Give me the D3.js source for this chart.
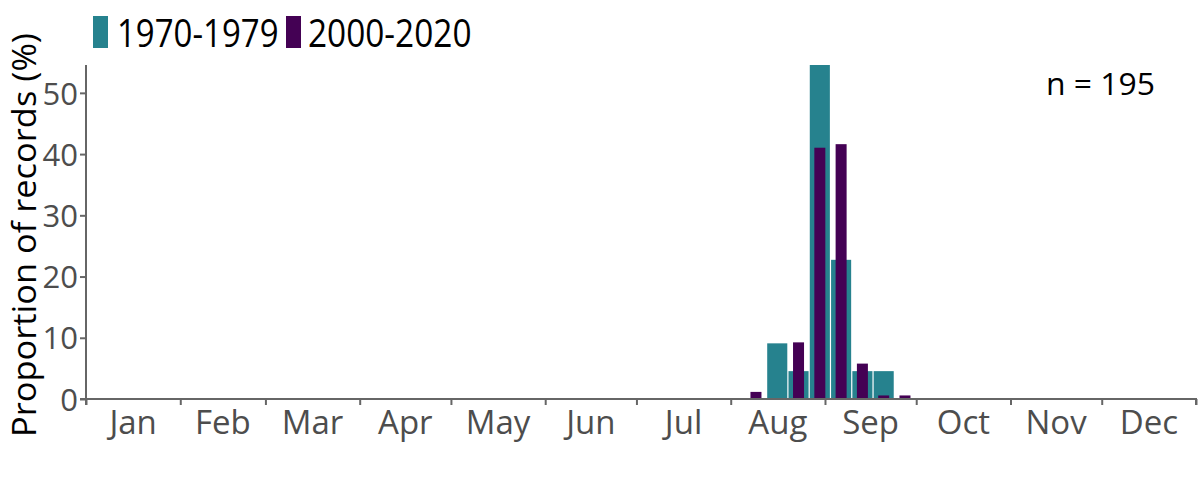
<!DOCTYPE html>
<html><head><meta charset="utf-8">
<script src="https://cdn.jsdelivr.net/npm/d3@7"></script>
<style>body{margin:0;background:#fff;} svg{display:block;}</style>
</head><body>
<svg id="c" width="1200" height="480"></svg>
<script>
const months = ["Jan","Feb","Mar","Apr","May","Jun","Jul","Aug","Sep","Oct","Nov","Dec"];
const seriesNames = ["1970-1979","2000-2020"];
const seriesColors = ["#26828e","#440154"];
// week index (0-based from Jan 1) and proportion of records (%)
const weeks = [31,32,33,34,35,36,37,38];
const values1970 = [0, 9.09, 4.55, 54.55, 22.73, 4.55, 4.55, 0];
const values2000 = [1.16, 0, 9.25, 41.04, 41.62, 5.78, 0.58, 0.58];
const yTicks = [0,10,20,30,40,50];
const nLabel = "n = 195";
const yTitle = "Proportion of records (%)";

const svg = d3.select("#c");
const font = "'Open Sans', sans-serif";
const axisCol = "#666666", tickTextCol = "#4d4d4d";
const x0 = 86, x1 = 1196, yBase = 399, yTop = 65;
const start = new Date(2021,0,1), end = new Date(2022,0,1);
const x = d3.scaleTime().domain([start,end]).range([x0,x1]);
const y = d3.scaleLinear().domain([0, d3.max(values1970)]).range([yBase,yTop]);
const day = d => d3.timeDay.offset(start, d);

// bars
const data1 = weeks.map((w,i)=>({w, v: values1970[i]})).filter(d=>d.v>0);
const data2 = weeks.map((w,i)=>({w, v: values2000[i]})).filter(d=>d.v>0);
svg.append("g").selectAll("rect").data(data1).join("rect")
  .attr("x", d=>x(day(d.w*7)))
  .attr("width", d=>x(day(d.w*7+7))-x(day(d.w*7))-1.2)
  .attr("y", d=>y(d.v)).attr("height", d=>yBase-y(d.v))
  .attr("fill", seriesColors[0]);
svg.append("g").selectAll("rect").data(data2).join("rect")
  .attr("x", d=>(x(day(d.w*7))+x(day(d.w*7+7)))/2-5.5 - 0.6)
  .attr("width", 11)
  .attr("y", d=>y(d.v)).attr("height", d=>yBase-y(d.v))
  .attr("fill", seriesColors[1]);

// x axis
const gx = svg.append("g").attr("transform",`translate(0,${yBase})`)
  .call(d3.axisBottom(x).ticks(d3.timeMonth.every(1)).tickSize(6).tickFormat(""));
gx.selectAll("path,line").attr("stroke", axisCol).attr("stroke-width", 2);
gx.select("path").attr("d", `M${x0},6V0H${x1}V6`);
const monthStarts = d3.range(12).map(m=>new Date(2021,m,1));
svg.append("g").selectAll("text").data(monthStarts).join("text")
  .attr("x", (d,i)=>(x(d)+x(new Date(2021,i+1,1)))/2)
  .attr("y", 434)
  .attr("text-anchor","middle")
  .attr("font-family", font).attr("font-size", 33).attr("fill", tickTextCol)
  .text((d,i)=>months[i]);

// y axis
const gy = svg.append("g").attr("transform",`translate(${x0},0)`)
  .call(d3.axisLeft(y).tickValues(yTicks).tickSize(6).tickFormat(d3.format("d")));
gy.selectAll("path,line").attr("stroke", axisCol).attr("stroke-width", 2);
gy.select("path").attr("d", `M-6,${yBase}H0V${yTop}`);
gy.selectAll("text").attr("font-family", font).attr("font-size", 31).attr("fill", tickTextCol)
  .attr("x", -8).attr("dy","0.36em");

// y title
svg.append("text").attr("transform",`translate(36,235) rotate(-90)`)
  .attr("text-anchor","middle").attr("font-family", font).attr("font-size", 33).attr("fill","#000")
  .attr("textLength", 404).attr("lengthAdjust","spacingAndGlyphs")
  .text(yTitle);

// n label
svg.append("text").attr("x", 1046).attr("y", 95)
  .attr("font-family", font).attr("font-size", 31).attr("fill","#000")
  .attr("textLength", 109).attr("lengthAdjust","spacingAndGlyphs").text(nLabel);

// legend
const leg = svg.append("g");
const legX = [93, 286];
const legTextX = [117, 308];
const legTextW = [161.5, 163.5];
seriesNames.forEach((s,i)=>{
  leg.append("rect").attr("x", legX[i]).attr("y", 16).attr("width", 15).attr("height", 32).attr("fill", seriesColors[i]);
  leg.append("text").attr("x", legTextX[i]).attr("y", 46.5).attr("font-family", font)
    .attr("font-size", 38).attr("fill","#000")
    .attr("textLength", legTextW[i]).attr("lengthAdjust","spacingAndGlyphs").text(s);
});
</script>
</body></html>
